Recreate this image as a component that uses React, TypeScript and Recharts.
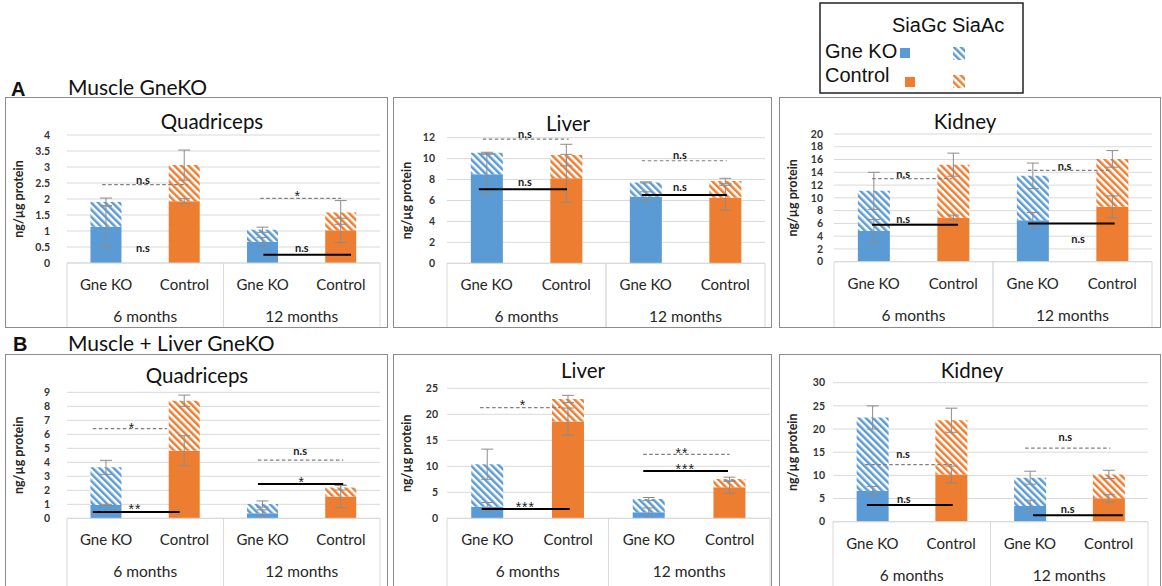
import React from 'react'
import {
  BarChart, Bar, XAxis, YAxis, CartesianGrid, Cell, ErrorBar,
  ReferenceLine, ReferenceDot,
} from 'recharts'

// ─── Colours & fonts ──────────────────────────────────────────────────────────

const BLUE = '#5b9bd5'
const ORANGE = '#ed7d31'
const GRID = '#d9d9d9'
const ERR = '#8c8c8c'
const TXT = '#262626'
const CAL = 'Lato, "Open Sans", sans-serif'
const ARIAL = '"Liberation Sans", Arial, sans-serif'

// ─── Categories ───────────────────────────────────────────────────────────────

const GROUPS = ['Gne KO', 'Control', 'Gne KO', 'Control']
const PERIODS = ['6 months', '6 months', '12 months', '12 months']

// ─── A: Muscle GneKO ──────────────────────────────────────────────────────────
// gc = SiaGc (solid), ac = SiaAc (hatched, stacked on top)

const A_QUAD_GC = [1.13, 1.93, 0.66, 1.02]
const A_QUAD_AC = [0.78, 1.13, 0.38, 0.56]
const A_QUAD_GC_ERR = [0.65, 0.08, 0.14, 0.38]
const A_QUAD_AC_ERR = [0.12, 0.47, 0.08, 0.37]
const A_QUAD_TICKS = [0, 0.5, 1, 1.5, 2, 2.5, 3, 3.5, 4]

const A_LIVER_GC = [8.5, 8.12, 6.36, 6.27]
const A_LIVER_AC = [2.06, 2.22, 1.37, 1.59]
const A_LIVER_GC_ERR = [1.91, 2.29, 0.47, 1.18]
const A_LIVER_AC_ERR = [0.05, 1.03, 0.05, 0.26]
const A_LIVER_TICKS = [0, 2, 4, 6, 8, 10, 12]

const A_KIDNEY_GC = [4.8, 6.9, 6.5, 8.6]
const A_KIDNEY_AC = [6.3, 8.3, 6.95, 7.5]
const A_KIDNEY_GC_ERR = [1.8, 0.4, 1.2, 1.7]
const A_KIDNEY_AC_ERR = [2.9, 1.8, 2.0, 1.3]
const A_KIDNEY_TICKS = [0, 2, 4, 6, 8, 10, 12, 14, 16, 18, 20]

// ─── B: Muscle + Liver GneKO ──────────────────────────────────────────────────

const B_QUAD_GC = [0.95, 4.83, 0.36, 1.55]
const B_QUAD_AC = [2.69, 3.57, 0.66, 0.65]
const B_QUAD_GC_ERR = [0.05, 1.07, 0.24, 0.8]
const B_QUAD_AC_ERR = [0.5, 0.4, 0.22, 0.18]
const B_QUAD_TICKS = [0, 1, 2, 3, 4, 5, 6, 7, 8, 9]

const B_LIVER_GC = [2.24, 18.6, 1.15, 5.96]
const B_LIVER_AC = [8.16, 4.35, 2.55, 1.6]
const B_LIVER_GC_ERR = [0.8, 2.6, 0.85, 1.15]
const B_LIVER_AC_ERR = [2.9, 0.7, 0.3, 0.35]
const B_LIVER_TICKS = [0, 5, 10, 15, 20, 25]

const B_KIDNEY_GC = [6.62, 10.2, 3.38, 5.04]
const B_KIDNEY_AC = [15.88, 11.7, 6.12, 5.16]
const B_KIDNEY_GC_ERR = [1.0, 1.8, 1.25, 0.8]
const B_KIDNEY_AC_ERR = [2.5, 2.6, 1.4, 0.9]
const B_KIDNEY_TICKS = [0, 5, 10, 15, 20, 25, 30]

// ─── Significance marks (x in bar slots 0..4, y in data units) ────────────────

type Sig = { kind: 'dash' | 'solid' | 'none'; from?: number; to?: number; y?: number; text: string; tx: number; ty: number }

const A_QUAD_SIG: Sig[] = [
  { kind: 'dash', from: 0.45, to: 1.54, y: 2.45, text: 'n.s', tx: 0.97, ty: 2.56 },
  { kind: 'none', text: 'n.s', tx: 0.97, ty: 0.45 },
  { kind: 'dash', from: 2.47, to: 3.5, y: 2.02, text: '*', tx: 2.95, ty: 2.18 },
  { kind: 'solid', from: 2.51, to: 3.63, y: 0.26, text: 'n.s', tx: 3.0, ty: 0.45 },
]
const A_LIVER_SIG: Sig[] = [
  { kind: 'dash', from: 0.45, to: 1.53, y: 11.87, text: 'n.s', tx: 0.98, ty: 12.32 },
  { kind: 'solid', from: 0.4, to: 1.51, y: 7.07, text: 'n.s', tx: 0.98, ty: 7.7 },
  { kind: 'dash', from: 2.45, to: 3.52, y: 9.8, text: 'n.s', tx: 2.93, ty: 10.25 },
  { kind: 'solid', from: 2.45, to: 3.52, y: 6.52, text: 'n.s', tx: 2.93, ty: 7.19 },
]
const A_KIDNEY_SIG: Sig[] = [
  { kind: 'dash', from: 0.48, to: 1.48, y: 13.0, text: 'n.s', tx: 0.87, ty: 13.7 },
  { kind: 'solid', from: 0.48, to: 1.56, y: 5.8, text: 'n.s', tx: 0.87, ty: 6.65 },
  { kind: 'dash', from: 2.44, to: 3.49, y: 14.3, text: 'n.s', tx: 2.9, ty: 14.87 },
  { kind: 'solid', from: 2.44, to: 3.53, y: 6.0, text: 'n.s', tx: 3.07, ty: 3.45 },
]
const B_QUAD_SIG: Sig[] = [
  { kind: 'dash', from: 0.33, to: 1.28, y: 6.4, text: '*', tx: 0.83, ty: 6.67 },
  { kind: 'solid', from: 0.33, to: 1.44, y: 0.45, text: '**', tx: 0.87, ty: 0.9 },
  { kind: 'dash', from: 2.44, to: 3.53, y: 4.15, text: 'n.s', tx: 2.98, ty: 4.79 },
  { kind: 'solid', from: 2.44, to: 3.53, y: 2.45, text: '*', tx: 3.0, ty: 2.81 },
]
const B_LIVER_SIG: Sig[] = [
  { kind: 'dash', from: 0.41, to: 1.4, y: 21.3, text: '*', tx: 0.94, ty: 22.3 },
  { kind: 'solid', from: 0.43, to: 1.52, y: 1.8, text: '***', tx: 0.97, ty: 2.82 },
  { kind: 'dash', from: 2.43, to: 3.5, y: 12.3, text: '**', tx: 2.91, ty: 13.1 },
  { kind: 'solid', from: 2.43, to: 3.48, y: 9.1, text: '***', tx: 2.95, ty: 10.1 },
]
const B_KIDNEY_SIG: Sig[] = [
  { kind: 'dash', from: 0.41, to: 1.51, y: 12.3, text: 'n.s', tx: 0.89, ty: 14.4 },
  { kind: 'solid', from: 0.43, to: 1.52, y: 3.6, text: 'n.s', tx: 0.9, ty: 4.75 },
  { kind: 'dash', from: 2.44, to: 3.52, y: 15.9, text: 'n.s', tx: 2.95, ty: 18.06 },
  { kind: 'solid', from: 2.54, to: 3.68, y: 1.4, text: 'n.s', tx: 2.98, ty: 2.66 },
]

// ─── Panel ────────────────────────────────────────────────────────────────────

type Box = { x: number; y: number; w: number; h: number }
type Plot = { l: number; r: number; t: number; b: number }

const GROUP_AXIS_H = 33
const PERIOD_AXIS_H = 30

function SigText({ cx, cy, text }: { cx: number; cy: number; text: string }) {
  const star = text.includes('*')
  return (
    <text
      x={cx} y={cy}
      dy={star ? '0.58em' : '0.3em'}
      textAnchor="middle"
      fontFamily={star ? ARIAL : CAL}
      fontSize={star ? 14 : 11}
      fontWeight={star ? 400 : 700}
      letterSpacing={star ? 1 : 0}
      fill="#1a1a1a"
    >
      {text}
    </text>
  )
}

function Panel({
  title, titleX, titleY, box, plot, tickGap,
  gc, ac, gcErr, acErr, ticks, sig,
}: {
  title: string; titleX: number; titleY: number; box: Box; plot: Plot; tickGap: number
  gc: number[]; ac: number[]; gcErr: number[]; acErr: number[]; ticks: number[]; sig: Sig[]
}) {
  const rows = GROUPS.map((g, i) => ({
    group: g, period: PERIODS[i], slot: i + 0.5,
    gc: gc[i], ac: ac[i], gcErr: gcErr[i], acErr: acErr[i],
  }))
  const half = (plot.r - plot.l) / 4
  const plotB = plot.b - box.y
  const margin = {
    top: plot.t - box.y,
    left: 0,
    right: box.x + box.w - plot.r,
    bottom: box.y + box.h - plot.b - GROUP_AXIS_H - PERIOD_AXIS_H,
  }

  return (
    <div style={{ position: 'absolute', left: box.x, top: box.y, width: box.w, height: box.h }}>
      <BarChart width={box.w} height={box.h} data={rows} margin={margin} barCategoryGap="30%">
        <CartesianGrid vertical={false} stroke={GRID} />
        <XAxis
          dataKey="group"
          interval={0}
          height={GROUP_AXIS_H}
          axisLine={{ stroke: GRID }}
          tickLine={false}
          tick={(p: any) => (
            <text x={p.x} y={plotB} dy={27} textAnchor="middle" fontFamily={CAL} fontSize={15} fill={TXT}>
              {p.payload.value}
            </text>
          )}
        />
        <XAxis
          xAxisId="period"
          dataKey="period"
          allowDuplicatedCategory={false}
          height={PERIOD_AXIS_H}
          axisLine={false}
          tickLine={false}
          tick={(p: any) => (
            <g>
              <line x1={p.x - half} x2={p.x - half} y1={plotB} y2={box.h} stroke={GRID} />
              <line x1={p.x + half} x2={p.x + half} y1={plotB} y2={box.h} stroke={GRID} />
              <text x={p.x} y={plotB} dy={59} textAnchor="middle" fontFamily={CAL} fontSize={15.5} fill={TXT}>
                {p.payload.value}
              </text>
            </g>
          )}
        />
        <XAxis xAxisId="num" dataKey="slot" type="number" domain={[0, 4]} allowDataOverflow hide orientation="top" />
        <YAxis
          domain={[0, ticks[ticks.length - 1]]}
          ticks={ticks}
          interval={0}
          width={plot.l - box.x}
          axisLine={false}
          tickLine={false}
          tickSize={0}
          tickMargin={tickGap}
          tick={{ fontFamily: CAL, fontSize: 10.5, fontWeight: 700, fill: '#333' }}
        />
        <Bar dataKey="gc" stackId="s" isAnimationActive={false}>
          {rows.map((_, i) => <Cell key={i} fill={i % 2 === 0 ? BLUE : ORANGE} />)}
          <ErrorBar dataKey="gcErr" width={6} stroke={ERR} strokeWidth={1} direction="y" />
        </Bar>
        <Bar dataKey="ac" stackId="s" isAnimationActive={false}>
          {rows.map((_, i) => <Cell key={i} fill={i % 2 === 0 ? 'url(#hatch-blue)' : 'url(#hatch-orange)'} />)}
          <ErrorBar dataKey="acErr" width={6} stroke={ERR} strokeWidth={1} direction="y" />
        </Bar>
        {sig.filter(s => s.kind !== 'none').map((s, i) => (
          <ReferenceLine
            key={'l' + i}
            xAxisId="num"
            segment={[{ x: s.from, y: s.y }, { x: s.to, y: s.y }]}
            stroke={s.kind === 'dash' ? '#7f7f7f' : '#000'}
            strokeWidth={s.kind === 'dash' ? 1.2 : 2}
            strokeDasharray={s.kind === 'dash' ? '3.5 2.5' : undefined}
            ifOverflow="visible"
          />
        ))}
        {sig.map((s, i) => (
          <ReferenceDot
            key={'t' + i}
            xAxisId="num"
            x={s.tx}
            y={s.ty}
            r={0}
            ifOverflow="visible"
            shape={(p: any) => <SigText cx={p.cx} cy={p.cy} text={s.text} />}
          />
        ))}
      </BarChart>
      <svg width={box.w} height={box.h} style={{ position: 'absolute', left: 0, top: 0, pointerEvents: 'none' }}>
        <text x={titleX - box.x} y={titleY - box.y} textAnchor="middle" fontFamily={CAL} fontSize={20.5} fill="#111">
          {title}
        </text>
        <text
          transform={`translate(${14}, ${(plot.t + plot.b) / 2 - box.y}) rotate(-90)`}
          dy="0.35em"
          textAnchor="middle"
          fontFamily={CAL}
          fontSize={12.5}
          fontWeight={700}
          fill={TXT}
        >
          ng/µg protein
        </text>
      </svg>
      <div style={{ position: 'absolute', left: 0, top: 0, width: box.w, height: box.h, border: '1.5px solid #8c8c8c', boxSizing: 'border-box', pointerEvents: 'none' }} />
    </div>
  )
}

// ─── Page ─────────────────────────────────────────────────────────────────────

export default function App() {
  return (
    <div style={{ position: 'absolute', left: 0, top: 0, width: 1162, height: 586, overflow: 'hidden', background: '#fff' }}>
      <svg width={0} height={0} style={{ position: 'absolute' }}>
        <defs>
          <pattern id="hatch-blue" patternUnits="userSpaceOnUse" width={5} height={5} patternTransform="rotate(-45)">
            <rect width={5} height={5} fill="#fff" />
            <rect width={2.5} height={5} fill={BLUE} />
          </pattern>
          <pattern id="hatch-orange" patternUnits="userSpaceOnUse" width={5} height={5} patternTransform="rotate(-45)">
            <rect width={5} height={5} fill="#fff" />
            <rect width={2.5} height={5} fill={ORANGE} />
          </pattern>
        </defs>
      </svg>

      <Panel title="Quadriceps" titleX={212} titleY={129}
        box={{ x: 5, y: 97, w: 383, h: 231 }} plot={{ l: 67, r: 380, t: 135, b: 263 }} tickGap={17}
        gc={A_QUAD_GC} ac={A_QUAD_AC} gcErr={A_QUAD_GC_ERR} acErr={A_QUAD_AC_ERR} ticks={A_QUAD_TICKS} sig={A_QUAD_SIG} />
      <Panel title="Liver" titleX={568} titleY={131}
        box={{ x: 393, y: 97, w: 379, h: 231 }} plot={{ l: 447, r: 765, t: 137.7, b: 263.3 }} tickGap={12}
        gc={A_LIVER_GC} ac={A_LIVER_AC} gcErr={A_LIVER_GC_ERR} acErr={A_LIVER_AC_ERR} ticks={A_LIVER_TICKS} sig={A_LIVER_SIG} />
      <Panel title="Kidney" titleX={965} titleY={129}
        box={{ x: 779, y: 97, w: 382, h: 231 }} plot={{ l: 834, r: 1152, t: 134, b: 261.7 }} tickGap={11}
        gc={A_KIDNEY_GC} ac={A_KIDNEY_AC} gcErr={A_KIDNEY_GC_ERR} acErr={A_KIDNEY_AC_ERR} ticks={A_KIDNEY_TICKS} sig={A_KIDNEY_SIG} />

      <Panel title="Quadriceps" titleX={197} titleY={383}
        box={{ x: 5, y: 354, w: 383, h: 250 }} plot={{ l: 67, r: 380, t: 392.3, b: 518.3 }} tickGap={17}
        gc={B_QUAD_GC} ac={B_QUAD_AC} gcErr={B_QUAD_GC_ERR} acErr={B_QUAD_AC_ERR} ticks={B_QUAD_TICKS} sig={B_QUAD_SIG} />
      <Panel title="Liver" titleX={583} titleY={378}
        box={{ x: 393, y: 354, w: 379, h: 250 }} plot={{ l: 447, r: 770, t: 388.3, b: 518.3 }} tickGap={9}
        gc={B_LIVER_GC} ac={B_LIVER_AC} gcErr={B_LIVER_GC_ERR} acErr={B_LIVER_AC_ERR} ticks={B_LIVER_TICKS} sig={B_LIVER_SIG} />
      <Panel title="Kidney" titleX={972} titleY={378}
        box={{ x: 779, y: 354, w: 382, h: 250 }} plot={{ l: 833, r: 1148, t: 382.7, b: 521.7 }} tickGap={8}
        gc={B_KIDNEY_GC} ac={B_KIDNEY_AC} gcErr={B_KIDNEY_GC_ERR} acErr={B_KIDNEY_AC_ERR} ticks={B_KIDNEY_TICKS} sig={B_KIDNEY_SIG} />

      {/* headings + shared legend */}
      <svg width={1162} height={586} style={{ position: 'absolute', left: 0, top: 0, pointerEvents: 'none' }}>
        <text x={11} y={96} fontFamily={ARIAL} fontSize={20} fontWeight={700} fill="#111">A</text>
        <text x={68} y={95} fontFamily={CAL} fontSize={21} fill="#111">Muscle GneKO</text>
        <text x={13} y={351} fontFamily={ARIAL} fontSize={20} fontWeight={700} fill="#111">B</text>
        <text x={68} y={351} fontFamily={CAL} fontSize={21} fill="#111">Muscle + Liver GneKO</text>

        <rect x={820} y={3} width={203} height={90} fill="#fff" stroke="#222" strokeWidth={1.5} />
        <text x={892} y={32} fontFamily={ARIAL} fontSize={20} fill="#111">SiaGc SiaAc</text>
        <text x={825} y={58} fontFamily={ARIAL} fontSize={20} fill="#111">Gne KO</text>
        <rect x={900} y={48} width={10} height={10} fill={BLUE} />
        <rect x={953} y={47} width={12} height={13} fill="url(#hatch-blue)" />
        <text x={825} y={82} fontFamily={ARIAL} fontSize={20} fill="#111">Control</text>
        <rect x={905} y={77} width={10} height={10} fill={ORANGE} />
        <rect x={953} y={75} width={12} height={13} fill="url(#hatch-orange)" />
      </svg>
    </div>
  )
}
